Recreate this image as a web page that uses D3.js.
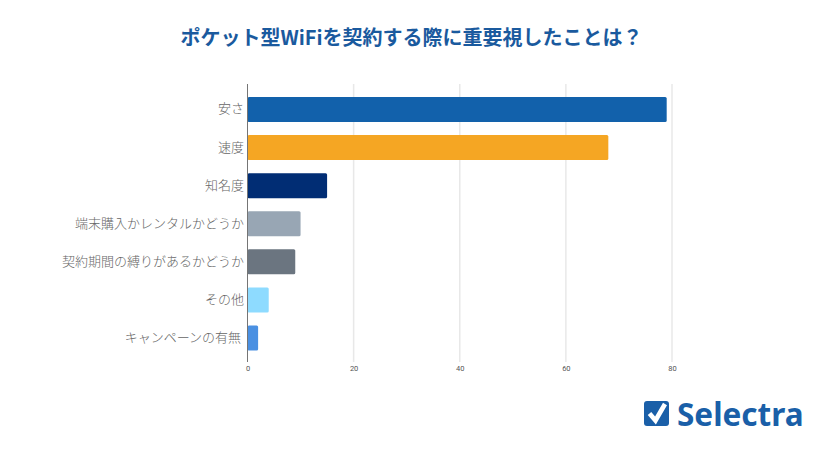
<!DOCTYPE html>
<html lang="ja">
<head>
<meta charset="utf-8">
<script src="https://cdn.jsdelivr.net/npm/d3@7/dist/d3.min.js"></script>
<style>
html,body{margin:0;padding:0;background:#fff}
svg{display:block}
text{font-family:"Noto Sans CJK JP","Noto Sans",sans-serif}
</style>
</head>
<body>
<div id="chart"></div>
<script>
const chartTitle = "ポケット型WiFiを契約する際に重要視したことは？";
const categories = ["安さ","速度","知名度","端末購入かレンタルかどうか","契約期間の縛りがあるかどうか","その他","キャンペーンの有無"];
const values = [79,68,15,10,9,4,2];
const barColors = ["#1261ab","#f5a623","#012d74","#98a6b4","#6b7580","#8edbff","#4a90e2"];
const tickValues = [0,20,40,60,80];

const width = 825, height = 450;
const svg = d3.select("#chart").append("svg").attr("width",width).attr("height",height);

svg.append("text").attr("x",411.5).attr("y",44.5).attr("text-anchor","middle")
  .attr("font-size",20).attr("font-weight",700).attr("fill","#1a5a9e").text(chartTitle);

const x = d3.scaleLinear().domain([0,80]).range([247.5,672]);
const y = d3.scaleBand().domain(categories).range([90.5,357]).paddingInner(0.345).paddingOuter(0.17);

// vertical gridlines
svg.append("g").selectAll("line").data(tickValues.slice(1)).join("line")
  .attr("x1",d=>x(d)).attr("x2",d=>x(d)).attr("y1",84).attr("y2",362)
  .attr("stroke","#e8e8e8").attr("stroke-width",1.5);

// bars
svg.append("g").selectAll("rect").data(categories).join("rect")
  .attr("x",x(0)).attr("y",d=>y(d))
  .attr("width",(d,i)=>x(values[i])-x(0)).attr("height",y.bandwidth())
  .attr("rx",1.5).attr("fill",(d,i)=>barColors[i]);

// category labels, with the last one sitting slightly further from the axis
svg.append("g").selectAll("text").data(categories).join("text")
  .attr("x",(d,i)=>i===6?241:244)
  .attr("y",d=>y(d)+y.bandwidth()/2-1.5)
  .attr("text-anchor","end").attr("dominant-baseline","central")
  .attr("font-size",13).attr("font-weight",300).attr("fill","#666").text(d=>d);

// value axis labels
const xAxis = d3.axisBottom(x).tickValues(tickValues).tickSize(0).tickPadding(0);
const gx = svg.append("g").attr("transform","translate(0,366)").call(xAxis);
gx.select(".domain").remove();
gx.selectAll("text").attr("font-size",7.5).attr("fill","#555")
  .style("font-family","Roboto,sans-serif");

// category axis line
svg.append("line").attr("x1",x(0)).attr("x2",x(0)).attr("y1",84).attr("y2",362)
  .attr("stroke","#757575").attr("stroke-width",1);

// brand mark: rounded check box followed by the wordmark
const brand = svg.append("g").attr("transform","translate(644,401)");
brand.append("path")
  .attr("d","M3 0H22Q25 0 25 3V22Q25 25 22 25H3Q0 25 0 22V3Q0 0 3 0Z")
  .attr("fill","#1a5fa8");
brand.append("path")
  .attr("d","M5.5 12.5L11.5 19.5L21 3")
  .attr("fill","none").attr("stroke","#fff").attr("stroke-width",4.6);
svg.append("text").attr("x",677).attr("y",425.5)
  .attr("font-size",31.5).attr("font-weight",700).attr("fill","#1a5fa8")
  .style("font-family","'Noto Sans',sans-serif").text("Selectra");
</script>
</body>
</html>
